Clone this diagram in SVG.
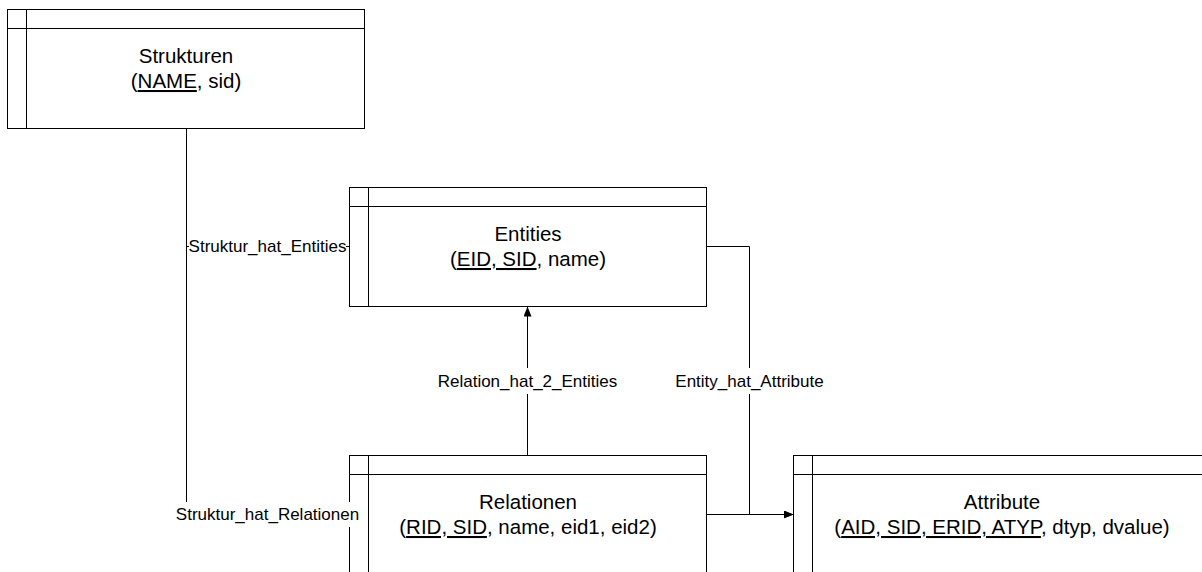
<svg xmlns="http://www.w3.org/2000/svg" width="1202" height="572" viewBox="0 0 1202 572">
  <style>
    .box { fill: #ffffff; stroke: #000000; stroke-width: 1; }
    .div { fill: none; stroke: #000000; stroke-width: 1; }
    .title { font-family: "Liberation Sans", Arial, sans-serif; font-size: 20.5px; fill: #000000; text-anchor: middle; }
    .key { text-decoration: underline; text-decoration-skip-ink: none; text-decoration-thickness: 2px; }
    .conn { fill: none; stroke: #000000; stroke-width: 1; }
    .lblbg { fill: #ffffff; stroke: none; }
    .lbl { font-family: "Liberation Sans", Arial, sans-serif; font-size: 17px; fill: #000000; text-anchor: middle; }
  </style>
  <defs>
    <marker id="arrow" markerUnits="userSpaceOnUse" markerWidth="10" markerHeight="8" refX="10" refY="4" orient="auto">
      <path d="M0,0 L10,4 L0,8 z" fill="#000000"/>
    </marker>
  </defs>

  <rect width="1202" height="572" fill="#ffffff"/>

  <!-- Tables -->
  <g id="strukturen">
    <rect class="box" x="7.5" y="9.5" width="357" height="119"/>
    <line class="div" x1="26.5" y1="9.5" x2="26.5" y2="128.5"/>
    <line class="div" x1="7.5" y1="28.5" x2="364.5" y2="28.5"/>
    <text class="title" x="186" y="63">Strukturen</text>
    <text class="title" x="186" y="88">(<tspan class="key">NAME</tspan>, sid)</text>
  </g>

  <g id="entities">
    <rect class="box" x="349.5" y="187.5" width="357" height="119"/>
    <line class="div" x1="368.5" y1="187.5" x2="368.5" y2="306.5"/>
    <line class="div" x1="349.5" y1="206.5" x2="706.5" y2="206.5"/>
    <text class="title" x="528" y="241">Entities</text>
    <text class="title" x="528" y="266">(<tspan class="key">EID, SID</tspan>, name)</text>
  </g>

  <g id="relationen">
    <rect class="box" x="349.5" y="455.5" width="357" height="119"/>
    <line class="div" x1="368.5" y1="455.5" x2="368.5" y2="574.5"/>
    <line class="div" x1="349.5" y1="474.5" x2="706.5" y2="474.5"/>
    <text class="title" x="528" y="509">Relationen</text>
    <text class="title" x="528" y="534">(<tspan class="key">RID, SID</tspan>, name, eid1, eid2)</text>
  </g>

  <g id="attribute">
    <rect class="box" x="793.5" y="455.5" width="417" height="119"/>
    <line class="div" x1="812.5" y1="455.5" x2="812.5" y2="574.5"/>
    <line class="div" x1="793.5" y1="474.5" x2="1210.5" y2="474.5"/>
    <text class="title" x="1002" y="509">Attribute</text>
    <text class="title" x="1002" y="534">(<tspan class="key">AID, SID, ERID, ATYP</tspan>, dtyp, dvalue)</text>
  </g>

  <!-- Relationships -->
  <g id="connectors">
    <path id="struktur_hat_entities" class="conn" d="M186.5,128.5 V246.5 H349.5"/>
    <path id="struktur_hat_relationen" class="conn" d="M186.5,128.5 V514.5 H349.5"/>
    <path id="relation_hat_2_entities" class="conn" d="M527.5,455.5 V306.5" marker-end="url(#arrow)"/>
    <path id="entity_hat_attribute" class="conn" d="M706.5,246.5 H749.5 V514.5 H793.5" marker-end="url(#arrow)"/>
    <path id="relation_to_attribute" class="conn" d="M706.5,514.5 H793.5" marker-end="url(#arrow)"/>

    <g id="labels">
      <rect class="lblbg" x="189" y="234" width="157" height="25"/>
      <text class="lbl" x="267.5" y="252">Struktur_hat_Entities</text>

      <rect class="lblbg" x="176" y="502" width="183" height="25"/>
      <text class="lbl" x="267.5" y="520">Struktur_hat_Relationen</text>

      <rect class="lblbg" x="438" y="368" width="180" height="26"/>
      <text class="lbl" x="527.5" y="386.5">Relation_hat_2_Entities</text>

      <rect class="lblbg" x="675" y="368" width="149" height="26"/>
      <text class="lbl" x="749.5" y="386.5">Entity_hat_Attribute</text>
    </g>
  </g>
</svg>
